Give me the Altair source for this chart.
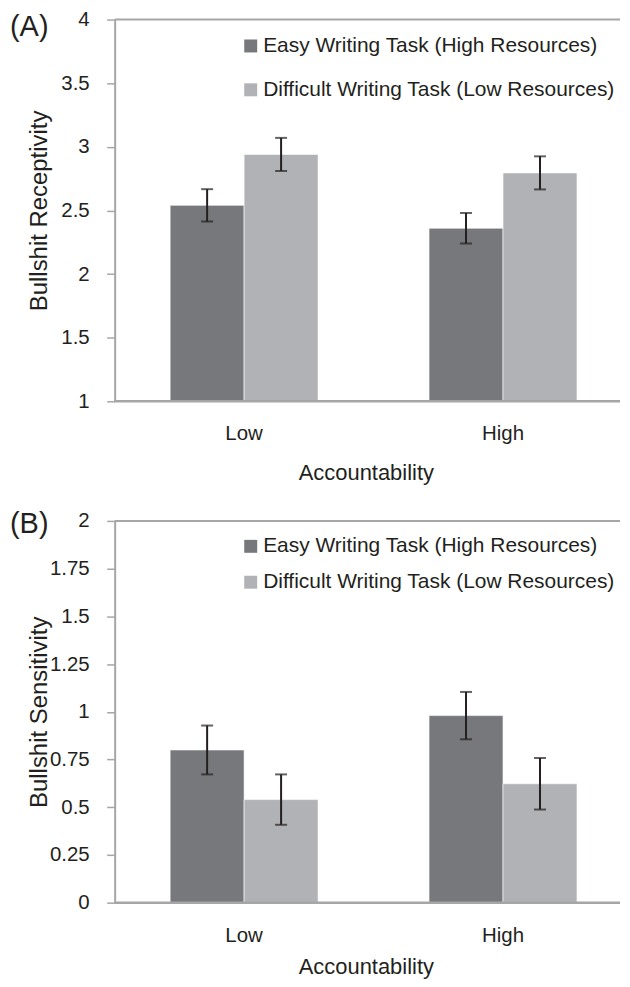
import altair as alt
import pandas as pd

FONT = "Liberation Sans"
INK = "#231f20"
AXIS_GRAY = "#a6a6a6"

accountability = ["Low", "High"]
tasks = ["Easy Writing Task (High Resources)", "Difficult Writing Task (Low Resources)"]
task_colors = ["#77787b", "#b1b2b5"]
x_title = "Accountability"

# Panel A: Bullshit Receptivity
recept_easy = [2.54, 2.36]
recept_easy_err = [0.127, 0.12]
recept_diff = [2.94, 2.795]
recept_diff_err = [0.13, 0.13]
recept_ticks = [1, 1.5, 2, 2.5, 3, 3.5, 4]

# Panel B: Bullshit Sensitivity
sens_easy = [0.80, 0.98]
sens_easy_err = [0.128, 0.124]
sens_diff = [0.54, 0.623]
sens_diff_err = [0.132, 0.135]
sens_ticks = [0, 0.25, 0.5, 0.75, 1, 1.25, 1.5, 1.75, 2]

W = 507
H = 383
XRANGE = [0, 519.5]


def make_df(easy, easy_err, diff, diff_err, ymin):
    rows = []
    for i, a in enumerate(accountability):
        for t, m, e in ((tasks[0], easy[i], easy_err[i]), (tasks[1], diff[i], diff_err[i])):
            rows.append({"acc": a, "task": t, "mean": m, "lo": m - e, "hi": m + e, "base": ymin})
    return pd.DataFrame(rows)


def panel(df, ticks, ytitle, tag, tag_y, legend_y, row_pad, xtitle_y):
    ymin, ymax = ticks[0], ticks[-1]
    x = alt.X(
        "acc:N",
        sort=accountability,
        scale=alt.Scale(range=XRANGE, paddingInner=0, paddingOuter=0),
        axis=None,
    )
    xo = alt.XOffset("task:N", sort=tasks, scale=alt.Scale(paddingInner=0, paddingOuter=0.75))
    yaxis = alt.Axis(
        title=ytitle, values=ticks, labelExpr="format(datum.value, '~g')", grid=False,
        domainColor=AXIS_GRAY, domainWidth=2, tickColor=AXIS_GRAY, tickWidth=1.5, tickSize=8,
        labelPadding=17.5, labelFontSize=20.5, labelColor=INK,
        titleFontSize=24, titleFontWeight="normal", titleColor=INK,
        titleX=-68, titleBaseline="alphabetic",
    )
    yscale = alt.Scale(domain=[ymin, ymax], nice=False, zero=False)
    base = alt.Chart(df)

    bars = base.mark_bar(stroke="#ffffff", strokeWidth=0.6).encode(
        x=x, xOffset=xo,
        y=alt.Y("mean:Q", scale=yscale, axis=yaxis),
        y2="base:Q",
        color=alt.Color(
            "task:N", sort=tasks,
            scale=alt.Scale(domain=tasks, range=task_colors),
            legend=alt.Legend(
                title=None, orient="none", legendX=126, legendY=legend_y, padding=0,
                symbolType="square", symbolSize=169, symbolStrokeWidth=0,
                labelFontSize=21, labelColor=INK, labelOffset=2, rowPadding=row_pad, labelLimit=0,
            ),
        ),
    )
    rules = base.mark_rule(color=INK, strokeWidth=2).encode(
        x=x, xOffset=xo, y=alt.Y("lo:Q", scale=yscale, axis=yaxis), y2="hi:Q"
    )
    cap_hi = base.mark_tick(color=INK, thickness=2, size=12).encode(
        x=x, xOffset=xo, y=alt.Y("hi:Q", scale=yscale, axis=yaxis)
    )
    cap_lo = base.mark_tick(color=INK, thickness=2, size=12).encode(
        x=x, xOffset=xo, y=alt.Y("lo:Q", scale=yscale, axis=yaxis)
    )
    cats = alt.Chart(pd.DataFrame({"acc": accountability})).mark_text(
        baseline="middle", align="center", fontSize=20.5, font=FONT, color=INK
    ).encode(x=x, text="acc:N", y=alt.value(H + 33))
    one = pd.DataFrame({"t": [tag], "xt": [x_title]})
    xt = alt.Chart(one).mark_text(
        baseline="middle", align="center", fontSize=22, font=FONT, color=INK
    ).encode(text="xt:N", x=alt.value(W / 2 - 1), y=alt.value(H + xtitle_y))
    top_line = alt.Chart(one).mark_rule(color=AXIS_GRAY, strokeWidth=2).encode(
        x=alt.value(0), x2=alt.value(W), y=alt.value(0)
    )
    bottom_line = alt.Chart(one).mark_rule(color=AXIS_GRAY, strokeWidth=2.5).encode(
        x=alt.value(0), x2=alt.value(W), y=alt.value(H)
    )
    label = alt.Chart(one).mark_text(
        align="left", baseline="alphabetic", fontSize=29, font=FONT, color=INK
    ).encode(text="t:N", x=alt.value(-105), y=alt.value(tag_y))

    return alt.layer(
        bars, rules, cap_hi, cap_lo, cats, xt, top_line, bottom_line, label
    ).properties(width=W, height=H)


dfA = make_df(recept_easy, recept_easy_err, recept_diff, recept_diff_err, recept_ticks[0])
dfB = make_df(sens_easy, sens_easy_err, sens_diff, sens_diff_err, sens_ticks[0])

pA = panel(dfA, recept_ticks, "Bullshit Receptivity", "(A)", 17, 16, 22, 72)
pB = panel(dfB, sens_ticks, "Bullshit Sensitivity", "(B)", 12.5, 15, 14, 65)

chart = (
    alt.vconcat(pA, pB, spacing=120, bounds="flush")
    .resolve_scale(x="independent", y="independent", color="independent")
    .resolve_legend(color="independent")
    .properties(padding={"left": 2, "top": 0, "right": 0, "bottom": 0})
    .configure(font=FONT)
    .configure_view(stroke=None)
)

chart.save("out.html", embed_options={"renderer": "svg", "actions": False})
